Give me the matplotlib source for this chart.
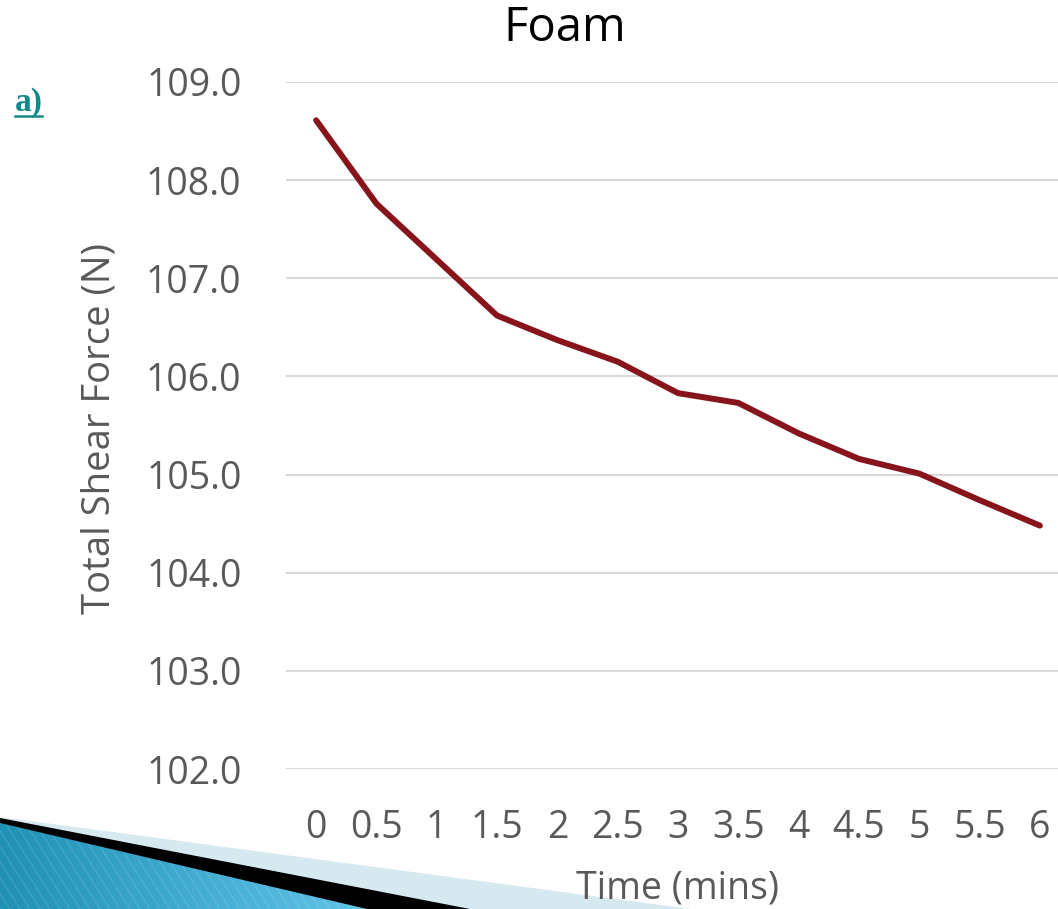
import numpy as np
import matplotlib
matplotlib.use('Agg')
import matplotlib.pyplot as plt
from matplotlib.patches import Polygon

plt.rcParams['font.family'] = ['Open Sans', 'DejaVu Sans']

# shear force readings over time
time_labels = ['0', '0.5', '1', '1.5', '2', '2.5', '3', '3.5', '4', '4.5', '5', '5.5', '6']
shear_force = [108.61, 107.76, 107.19, 106.62, 106.37, 106.15, 105.83,
               105.73, 105.42, 105.16, 105.01, 104.74, 104.48]
y_ticks = [102.0, 103.0, 104.0, 105.0, 106.0, 107.0, 108.0, 109.0]

W, H = 1058, 909
fig = plt.figure(figsize=(W / 100, H / 100), dpi=100)
fig.patch.set_facecolor('white')

# slide decoration in the lower left corner (pixel coordinates)
bg = fig.add_axes([0, 0, 1, 1], zorder=-1)
bg.set_xlim(0, W)
bg.set_ylim(H, 0)
bg.axis('off')
bg.add_patch(Polygon([(0, 817), (690, H), (0, H)], closed=True, fc='#d6e9f1', ec='none'))
bg.add_patch(Polygon([(0, 818), (470, H), (0, H)], closed=True, fc='black', ec='none'))
blue = Polygon([(0, 823), (367, H), (0, H)], closed=True, fc='none', ec='none')
bg.add_patch(blue)
grad = np.linspace(0, 1, 256).reshape(1, -1)
cmap = matplotlib.colors.LinearSegmentedColormap.from_list('slide', ['#1f91b5', '#40aad0', '#62c4e8'])
im = bg.imshow(grad, cmap=cmap, extent=(0, 370, H, 815), aspect='auto', zorder=2)
im.set_clip_path(blue)
for s in np.arange(-120, 420, 10):
    ln, = bg.plot([s, s + 60], [815, H], color='white', alpha=0.12, lw=1, zorder=3)
    ln.set_clip_path(blue)
bg.set_xlim(0, W)
bg.set_ylim(H, 0)

# main chart
ax = fig.add_axes([286 / W, 1 - 769 / H, 784 / W, 687 / H])
ax.patch.set_alpha(0)
x = np.arange(len(time_labels))
ax.plot(x, shear_force, color='#86141a', linewidth=4.3, solid_capstyle='round', zorder=3)

ax.set_xlim(-0.5, len(time_labels) - 0.5)
ax.set_ylim(102, 109)
ax.set_xticks(x)
ax.set_xticklabels(time_labels)
ax.set_yticks(y_ticks)
ax.set_yticklabels(['%.1f' % v for v in y_ticks])
ax.grid(axis='y', color='#d9d9d9', linewidth=1.5)
ax.set_axisbelow(True)
for sp in ax.spines.values():
    sp.set_visible(False)
ax.tick_params(axis='both', length=0, labelsize=27, labelcolor='#595959')
ax.tick_params(axis='x', pad=29)
ax.tick_params(axis='y', pad=32)

fig.text(565 / W, 1 - 28 / H, 'Foam', fontsize=34, color='black', ha='center', va='center')
fig.text(100 / W, 1 - 428 / H, 'Total Shear Force (N)', fontsize=27.5, color='#595959',
         rotation=90, ha='center', va='center')
fig.text(678 / W, 1 - 899 / H, 'Time (mins)', fontsize=27, color='#595959',
         ha='center', va='baseline')

# "a)" panel label
fig.text(15 / W, 1 - 111 / H, 'a)', fontsize=24, fontweight='bold', color='#138a8a',
         family='Liberation Serif', ha='left', va='baseline')
bg.plot([15, 42], [116, 116], color='#138a8a', lw=1.8)

fig.savefig('out.png', dpi=100)
